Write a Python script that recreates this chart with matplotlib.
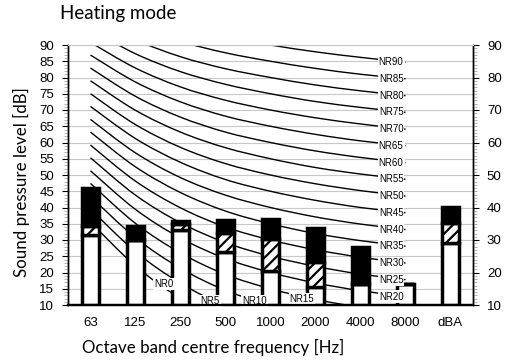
"""Heating mode: octave band levels against NR curves (506x360 PNG)."""

import matplotlib

matplotlib.use("Agg")
import matplotlib.pyplot as plt  # noqa: E402
from matplotlib.patches import PathPatch  # noqa: E402
from matplotlib.path import Path  # noqa: E402
from matplotlib.ticker import MultipleLocator  # noqa: E402

BANDS = ["63", "125", "250", "500", "1000", "2000", "4000", "8000", "dBA"]

# stacked levels [dB]: white base, hatched step, black top
FLOOR = 10
BASE_TOP = [31.5, 30.0, 33.0, 26.4, 20.4, 15.4, 16.4, 16.6, 29.0]
HATCH_TOP = [34.3, 30.0, 35.0, 32.3, 30.2, 23.3, 16.4, 16.6, 35.1]
BLACK_TOP = [46.0, 34.3, 36.0, 36.2, 36.4, 33.6, 27.9, 16.6, 40.2]

# noise rating curves, 63 Hz .. 8000 Hz
NR_TABLE = {
    0: [35.5, 22.0, 12.0, 4.8, 0.0, -3.5, -6.1, -8.0],
    5: [39.5, 26.4, 16.7, 9.7, 5.0, 1.6, -1.0, -2.9],
    10: [43.4, 30.7, 21.3, 14.5, 10.0, 6.7, 4.2, 2.3],
    15: [47.4, 35.1, 26.0, 19.4, 15.0, 11.7, 9.3, 7.5],
    20: [51.3, 39.4, 30.6, 24.3, 20.0, 16.8, 14.4, 12.6],
    25: [55.3, 43.8, 35.3, 29.2, 25.0, 21.9, 19.5, 17.8],
    30: [59.2, 48.1, 39.9, 34.0, 30.0, 27.0, 24.7, 22.9],
    35: [63.2, 52.5, 44.6, 38.9, 35.0, 32.0, 29.8, 28.1],
    40: [67.1, 56.8, 49.2, 43.8, 40.0, 37.1, 34.9, 33.2],
    45: [71.1, 61.2, 53.9, 48.6, 45.0, 42.2, 40.0, 38.4],
    50: [75.0, 65.5, 58.5, 53.5, 50.0, 47.3, 45.2, 43.5],
    55: [79.0, 69.9, 63.2, 58.4, 55.0, 52.3, 50.3, 48.7],
    60: [82.9, 74.2, 67.8, 63.2, 60.0, 57.4, 55.4, 53.8],
    65: [86.9, 78.6, 72.5, 68.1, 65.0, 62.5, 60.5, 59.0],
    70: [90.8, 82.9, 77.1, 73.0, 70.0, 67.6, 65.7, 64.1],
    75: [94.8, 87.3, 81.8, 77.9, 75.0, 72.6, 70.8, 69.3],
    80: [98.7, 91.6, 86.4, 82.7, 80.0, 77.7, 75.9, 74.4],
    85: [102.7, 96.0, 91.1, 87.6, 85.0, 82.8, 81.0, 79.6],
    90: [106.6, 100.3, 95.7, 92.5, 90.0, 87.9, 86.2, 84.7],
}

# curves that run off the bottom get their tag where they leave the chart
LOW_TAGS = {0: (1.63, 16.4), 5: (2.66, 11.2), 10: (3.64, 11.2), 15: (4.70, 11.8)}
TAG_X = 6.68


def smooth_path(ys):
    """Excel-style smoothed line through the points (Catmull-Rom as Bezier)."""
    pts = list(enumerate(ys))
    verts, codes = [pts[0]], [Path.MOVETO]
    n = len(pts)
    for i in range(n - 1):
        p0, p1 = pts[max(i - 1, 0)], pts[i]
        p2, p3 = pts[i + 1], pts[min(i + 2, n - 1)]
        c1 = (p1[0] + (p2[0] - p0[0]) / 6, p1[1] + (p2[1] - p0[1]) / 6)
        c2 = (p2[0] - (p3[0] - p1[0]) / 6, p2[1] - (p3[1] - p1[1]) / 6)
        verts += [c1, c2, p2]
        codes += [Path.CURVE4] * 3
    return Path(verts, codes)


plt.rcParams["font.family"] = ["Liberation Sans", "DejaVu Sans"]
plt.rcParams["hatch.linewidth"] = 1.6
LABEL_FONT = ["Lato", "DejaVu Sans"]

fig = plt.figure(figsize=(5.06, 3.60), dpi=100)
ax = fig.add_axes([68 / 506, 1 - 305 / 360, 405 / 506, 260 / 360])

xs = list(range(len(BANDS)))

for level in range(15, 95, 5):
    ax.axhline(level, color="#c8c8c8", lw=0.8, zorder=1)

for level, vals in NR_TABLE.items():
    ax.add_patch(PathPatch(smooth_path(vals), fc="none", ec="black", lw=1.0, zorder=2))
    if level in LOW_TAGS:
        tx, ty = LOW_TAGS[level]
    else:
        tx, ty = TAG_X, vals[-1]
    ax.text(tx, ty, f"NR{level}", fontsize=7, ha="center", va="center",
            zorder=6, bbox=dict(fc="white", ec="none", pad=0.8))

base_h = [b - FLOOR for b in BASE_TOP]
hatch_h = [h - b for h, b in zip(HATCH_TOP, BASE_TOP)]
black_h = [t - h for t, h in zip(BLACK_TOP, HATCH_TOP)]
bar_kw = dict(width=0.38, edgecolor="black", linewidth=2.5, zorder=3)
ax.bar(xs, base_h, bottom=FLOOR, color="white", **bar_kw)
ax.bar(xs, hatch_h, bottom=BASE_TOP, color="white", hatch="///", **bar_kw)
ax.bar(xs, black_h, bottom=HATCH_TOP, color="black", **bar_kw)

ax.set_xlim(-0.5, len(BANDS) - 0.5)
ax.set_ylim(10, 90)
ax.set_xticks(xs)
ax.set_xticklabels(BANDS)
ax.yaxis.set_major_locator(MultipleLocator(5))
ax.yaxis.set_minor_locator(MultipleLocator(1))
ax.tick_params(axis="x", length=0, pad=9, labelsize=9.5)
ax.tick_params(axis="y", which="major", length=4, width=0.8, labelsize=9.5, pad=6)
ax.tick_params(axis="y", which="minor", length=3, width=0.5, color="#999999")

ax2 = ax.twinx()
ax2.set_ylim(10, 90)
ax2.yaxis.set_major_locator(MultipleLocator(10))
ax2.yaxis.set_minor_locator(MultipleLocator(1))
ax2.tick_params(axis="y", which="major", length=4, width=0.8, labelsize=9.5, pad=6)
ax2.tick_params(axis="y", which="minor", length=3, width=0.5, color="#999999")

for a in (ax, ax2):
    a.spines["top"].set_color("#c8c8c8")
    a.spines["top"].set_linewidth(0.8)
    a.spines["left"].set_linewidth(1.0)
    a.spines["right"].set_linewidth(1.0)
    a.spines["bottom"].set_linewidth(1.6)

fig.text(60 / 506, 1 - 14 / 360, "Heating mode", fontsize=13.5,
         family=LABEL_FONT, ha="left", va="center")
fig.text(82 / 506, 1 - 347 / 360, "Octave band centre frequency [Hz]",
         fontsize=12.2, family=LABEL_FONT, ha="left", va="center")
fig.text(21 / 506, 1 - 182 / 360, "Sound pressure level [dB]", fontsize=12.2,
         family=LABEL_FONT, rotation=90, ha="center", va="center")

fig.savefig("out.png", dpi=100)
